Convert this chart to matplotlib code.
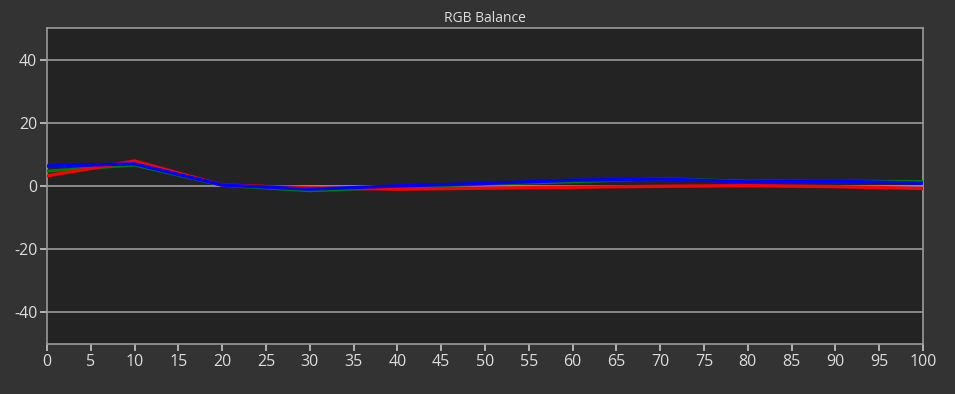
import matplotlib
matplotlib.use("Agg")
import matplotlib.pyplot as plt

x = [0, 10, 20, 30, 40, 50, 60, 70, 80, 90, 100]
red = [3.2, 7.9, 0.3, -0.6, -1.0, -0.7, -0.4, -0.1, 0.1, -0.2, -0.8]
green = [4.7, 6.6, 0.2, -1.5, -0.5, 0.6, 1.3, 2.3, 1.5, 1.5, 1.4]
blue = [6.3, 7.0, 0.3, -1.0, 0.0, 0.8, 1.8, 2.2, 1.3, 1.5, 0.9]

xticks = list(range(0, 101, 5))
yticks = [-40, -20, 0, 20, 40]

plt.rcParams['font.family'] = ['Open Sans', 'DejaVu Sans']
plt.rcParams['axes.unicode_minus'] = False

fig = plt.figure(figsize=(9.55, 3.94), dpi=100, facecolor='#333333')
ax = fig.add_axes([0.0492, 0.127, 0.9173, 0.802])
ax.set_facecolor('#232323')

ax.plot(x, green, color='#008000', lw=2.2, zorder=3)
ax.plot(x, red, color='#ff0000', lw=2.4, zorder=4)
ax.plot(x, blue, color='#0000ff', lw=2.4, zorder=5)

ax.set_xlim(0, 100)
ax.set_ylim(-50, 50)
ax.set_xticks(xticks)
ax.set_yticks(yticks)
ax.grid(axis='y', color='#9a9a9a', lw=1.2, zorder=1)

for s in ax.spines.values():
    s.set_color('#9a9a9a')
    s.set_linewidth(1.2)

ax.tick_params(colors='#dcdcdc', labelsize=11.5, length=5, width=1.2, direction='out', pad=2)
ax.tick_params(axis='x', color='#c8c8c8')
ax.tick_params(axis='y', color='#c8c8c8')

ax.set_title('RGB Balance', color='#dcdcdc', fontsize=10, pad=4)

fig.savefig('out.png', dpi=100, facecolor=fig.get_facecolor())
